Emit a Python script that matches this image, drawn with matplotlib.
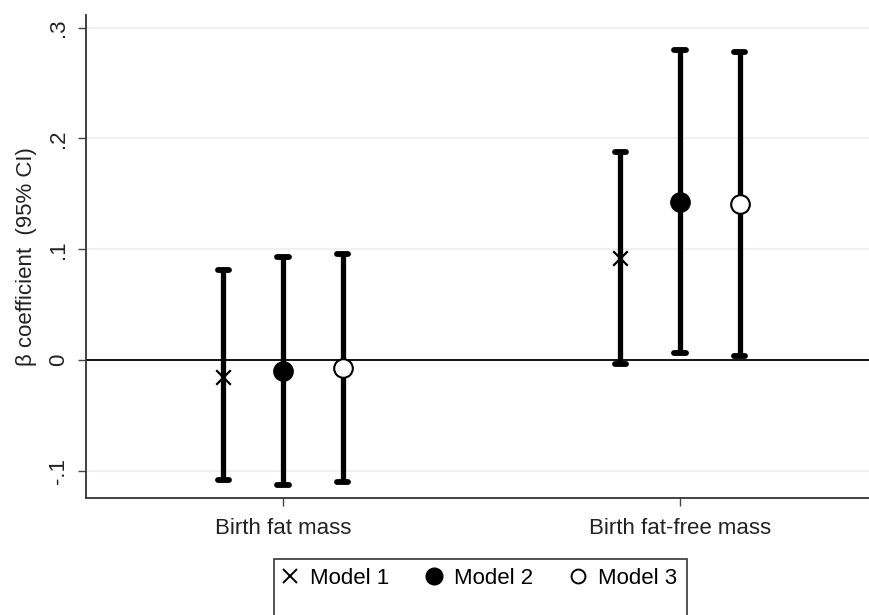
import matplotlib.pyplot as plt
from matplotlib.patches import Rectangle

categories = ['Birth fat mass', 'Birth fat-free mass']
models = ['Model 1', 'Model 2', 'Model 3']
markers = ['x', 'o', 'o']
facecolors = ['black', 'black', 'white']

# point estimates and 95% CI per model, one value per category
beta = [[-0.015, 0.092], [-0.010, 0.143], [-0.007, 0.141]]
lower = [[-0.108, -0.004], [-0.113, 0.006], [-0.110, 0.004]]
upper = [[0.081, 0.188], [0.093, 0.280], [0.096, 0.278]]

yticks = [-0.1, 0, 0.1, 0.2, 0.3]
ytick_labels = ['-.1', '0', '.1', '.2', '.3']

plt.rcParams['font.family'] = ['Liberation Sans', 'DejaVu Sans']

fig = plt.figure(figsize=(8.69, 6.15), dpi=100)
ax = fig.add_axes([0.099, 0.19, 0.901, 0.786])

offsets = [-0.15, 0.0, 0.15]
for i in range(3):
    xs = [c + 1 + offsets[i] for c in range(len(categories))]
    for x, lo, hi in zip(xs, lower[i], upper[i]):
        ax.plot([x, x], [lo, hi], color='black', lw=3.8, solid_capstyle='butt', zorder=3)
        for yy in (lo, hi):
            ax.plot([x - 0.014, x + 0.014], [yy, yy], color='black', lw=4.2,
                    solid_capstyle='round', zorder=3)
    if markers[i] == 'x':
        ax.scatter(xs, beta[i], marker='x', s=110, color='black', linewidths=1.6, zorder=4)
    else:
        ax.scatter(xs, beta[i], marker='o', s=180, facecolors=facecolors[i],
                   edgecolors='black', linewidths=1.5, zorder=4)

ax.axhline(0, color='black', lw=1.3, zorder=2)
for yv in yticks:
    if yv != 0:
        ax.axhline(yv, color='#e8f0f4', lw=1.2, zorder=1)

ax.set_xlim(0.504, 2.476)
ax.set_ylim(-0.1247, 0.3117)
ax.set_xticks([1, 2])
ax.set_xticklabels(categories, fontsize=16, color='#222222')
ax.set_yticks(yticks)
ax.set_yticklabels(ytick_labels, fontsize=16, rotation=90, va='center', color='#222222')
ax.set_ylabel('\u03b2 coefficient  (95% CI)', fontsize=16, labelpad=8, color='#222222')
ax.tick_params(axis='x', length=6, width=1, color='#444444', pad=8)
ax.tick_params(axis='y', length=6, width=1, color='#444444', pad=6)

for s in ['top', 'right']:
    ax.spines[s].set_visible(False)
for s in ['left', 'bottom']:
    ax.spines[s].set_color('#333333')
    ax.spines[s].set_linewidth(1.3)

# legend box, runs off the bottom edge as in the original
fig.patches.append(Rectangle((274 / 869, -0.02), (687 - 274) / 869, (615 - 559) / 615 + 0.02,
                             transform=fig.transFigure, fill=False, edgecolor='#444444', lw=1.3))
handles = [
    plt.Line2D([], [], marker='x', ls='none', color='black', markersize=10, markeredgewidth=1.4),
    plt.Line2D([], [], marker='o', ls='none', color='black', markersize=12),
    plt.Line2D([], [], marker='o', ls='none', markerfacecolor='white', markeredgecolor='black',
               markersize=10, markeredgewidth=1.4),
]
fig.legend(handles, models, loc='center', bbox_to_anchor=(478 / 869, 1 - 578 / 615), ncol=3,
           frameon=False, fontsize=16, handletextpad=0.4, columnspacing=1.5, handlelength=1.0)

fig.savefig('out.png', dpi=100)
